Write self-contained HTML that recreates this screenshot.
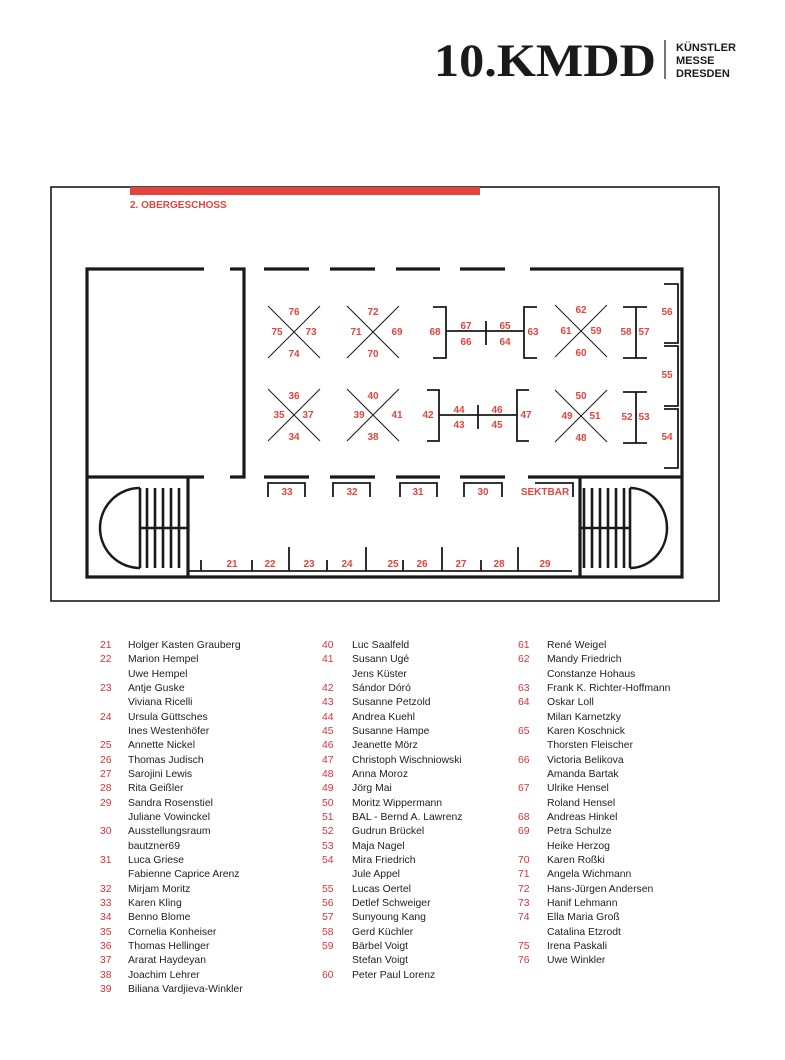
<!DOCTYPE html>
<html><head><meta charset="utf-8"><style>
body{margin:0;width:785px;height:1060px;background:#fff;position:relative;overflow:hidden;font-family:"Liberation Sans",sans-serif}
svg{position:absolute;left:0;top:0}
.col{position:absolute;top:639px;font-size:10.4px;line-height:14.33px;color:#222}
.col div{height:14.33px;white-space:nowrap;position:relative}
.col b{font-weight:normal;color:#d9333b;position:absolute;left:0}
.col span{position:absolute}
</style></head><body>
<svg width="785" height="1060" viewBox="0 0 785 1060" font-family="Liberation Sans, sans-serif">
<text x="434" y="76" font-family="Liberation Serif, serif" font-weight="bold" font-size="47" fill="#1a1a1a" textLength="222" lengthAdjust="spacingAndGlyphs">10.KMDD</text>
<line x1="665" y1="40" x2="665" y2="79" stroke="#1a1a1a" stroke-width="1.2"/>
<g font-size="11" font-weight="bold" fill="#1a1a1a"><text x="676" y="51">KÜNSTLER</text><text x="676" y="64">MESSE</text><text x="676" y="77">DRESDEN</text></g>
<rect x="51" y="187" width="668" height="414" fill="none" stroke="#1a1a1a" stroke-width="1.6"/>
<rect x="130" y="187" width="350" height="8" fill="#e2453f"/>
<text x="130" y="208" font-size="10" font-weight="bold" fill="#e2453f">2. OBERGESCHOSS</text>
<g stroke="#1a1a1a" stroke-width="3.2" fill="none">
<polyline points="204,269 87,269 87,577 682,577 682,269 530,269"/>
<polyline points="230,269 244,269 244,477 230,477"/>
<line x1="87" y1="477" x2="204" y2="477"/>
<line x1="264" y1="269" x2="309" y2="269"/><line x1="330" y1="269" x2="375" y2="269"/><line x1="396" y1="269" x2="440" y2="269"/><line x1="460" y1="269" x2="505" y2="269"/>
<line x1="264" y1="477" x2="309" y2="477"/><line x1="330" y1="477" x2="375" y2="477"/><line x1="396" y1="477" x2="440" y2="477"/><line x1="460" y1="477" x2="505" y2="477"/><line x1="528" y1="477" x2="682" y2="477"/>
<line x1="188" y1="477" x2="188" y2="577"/>
<line x1="580" y1="477" x2="580" y2="577"/>
</g>
<g stroke="#1a1a1a" fill="none">
<path d="M140,488 A40,40 0 0 0 140,568" stroke-width="2.5"/>
<path d="M630,488 A37,40 0 0 1 630,568" stroke-width="2.5"/>
<g stroke-width="2.6">
<line x1="140" y1="488" x2="140" y2="568"/><line x1="147" y1="488" x2="147" y2="568"/><line x1="155" y1="488" x2="155" y2="568"/><line x1="163" y1="488" x2="163" y2="568"/><line x1="171" y1="488" x2="171" y2="568"/><line x1="179" y1="488" x2="179" y2="568"/>
<line x1="584" y1="488" x2="584" y2="568"/><line x1="592" y1="488" x2="592" y2="568"/><line x1="600" y1="488" x2="600" y2="568"/><line x1="608" y1="488" x2="608" y2="568"/><line x1="616" y1="488" x2="616" y2="568"/><line x1="624" y1="488" x2="624" y2="568"/><line x1="630" y1="488" x2="630" y2="568"/>
<line x1="140" y1="528" x2="188" y2="528"/><line x1="580" y1="528" x2="630" y2="528"/>
</g>
<g stroke-width="1.8">
<line x1="188" y1="571" x2="572" y2="571"/>
<line x1="201" y1="560" x2="201" y2="571"/><line x1="252" y1="560" x2="252" y2="571"/><line x1="289" y1="547" x2="289" y2="571"/><line x1="327" y1="560" x2="327" y2="571"/><line x1="366" y1="547" x2="366" y2="571"/><line x1="403" y1="560" x2="403" y2="571"/><line x1="442" y1="547" x2="442" y2="571"/><line x1="481" y1="560" x2="481" y2="571"/><line x1="518" y1="547" x2="518" y2="571"/>
<polyline points="268,497 268,483 305,483 305,497"/><polyline points="333,497 333,483 370,483 370,497"/><polyline points="400,497 400,483 437,483 437,497"/><polyline points="464,497 464,483 502,483 502,497"/><polyline points="535,483 573,483 573,497"/>
</g>
<g stroke-width="1">
<path d="M268,306 L320,358 M320,306 L268,358"/><path d="M347,306 L399,358 M399,306 L347,358"/>
<path d="M268,389 L320,441 M320,389 L268,441"/><path d="M347,389 L399,441 M399,389 L347,441"/>
<path d="M555,305 L607,357 M607,305 L555,357"/><path d="M555,390 L607,442 M607,390 L555,442"/>
</g>
<g stroke-width="1.8">
<polyline points="433,307 446,307 446,358 433,358"/><line x1="446" y1="331" x2="524" y2="331"/><line x1="486" y1="321" x2="486" y2="345"/><polyline points="537,307 524,307 524,358 537,358"/>
<polyline points="427,390 439,390 439,441 427,441"/><line x1="439" y1="415" x2="517" y2="415"/><line x1="478" y1="405" x2="478" y2="429"/><polyline points="529,390 517,390 517,441 529,441"/>
<line x1="636" y1="307" x2="636" y2="358"/><line x1="623" y1="307" x2="647" y2="307"/><line x1="623" y1="358" x2="647" y2="358"/>
<line x1="636" y1="392" x2="636" y2="443"/><line x1="623" y1="392" x2="647" y2="392"/><line x1="623" y1="443" x2="647" y2="443"/>
<polyline points="664,284 678,284 678,343 664,343"/><polyline points="664,346 678,346 678,406 664,406"/><polyline points="664,409 678,409 678,468 664,468"/>
</g>
</g>
<g font-size="10" font-weight="bold" fill="#e2453f" text-anchor="middle">
<text x="294" y="315">76</text><text x="277" y="335">75</text><text x="311" y="335">73</text><text x="294" y="357">74</text>
<text x="373" y="315">72</text><text x="356" y="335">71</text><text x="397" y="335">69</text><text x="373" y="357">70</text>
<text x="294" y="399">36</text><text x="279" y="418">35</text><text x="308" y="418">37</text><text x="294" y="440">34</text>
<text x="373" y="399">40</text><text x="359" y="418">39</text><text x="397" y="418">41</text><text x="373" y="440">38</text>
<text x="581" y="313">62</text><text x="566" y="334">61</text><text x="596" y="334">59</text><text x="581" y="356">60</text>
<text x="581" y="399">50</text><text x="567" y="419">49</text><text x="595" y="419">51</text><text x="581" y="441">48</text>
<text x="435" y="335">68</text><text x="466" y="329">67</text><text x="466" y="345">66</text><text x="505" y="329">65</text><text x="505" y="345">64</text><text x="533" y="335">63</text>
<text x="428" y="418">42</text><text x="459" y="413">44</text><text x="459" y="428">43</text><text x="497" y="413">46</text><text x="497" y="428">45</text><text x="526" y="418">47</text>
<text x="626" y="335">58</text><text x="644" y="335">57</text><text x="627" y="420">52</text><text x="644" y="420">53</text>
<text x="667" y="315">56</text><text x="667" y="378">55</text><text x="667" y="440">54</text>
<text x="287" y="495">33</text><text x="352" y="495">32</text><text x="418" y="495">31</text><text x="483" y="495">30</text><text x="545" y="495">SEKTBAR</text>
<text x="232" y="567">21</text><text x="270" y="567">22</text><text x="309" y="567">23</text><text x="347" y="567">24</text><text x="393" y="567">25</text><text x="422" y="567">26</text><text x="461" y="567">27</text><text x="499" y="567">28</text><text x="545" y="567">29</text>
</g>
</svg>
<div class="col" style="left:100px;width:210px">
<div><b>21</b><span style="left:28px">Holger Kasten Grauberg</span></div>
<div><b>22</b><span style="left:28px">Marion Hempel</span></div>
<div><span style="left:28px">Uwe Hempel</span></div>
<div><b>23</b><span style="left:28px">Antje Guske</span></div>
<div><span style="left:28px">Viviana Ricelli</span></div>
<div><b>24</b><span style="left:28px">Ursula Güttsches</span></div>
<div><span style="left:28px">Ines Westenhöfer</span></div>
<div><b>25</b><span style="left:28px">Annette Nickel</span></div>
<div><b>26</b><span style="left:28px">Thomas Judisch</span></div>
<div><b>27</b><span style="left:28px">Sarojini Lewis</span></div>
<div><b>28</b><span style="left:28px">Rita Geißler</span></div>
<div><b>29</b><span style="left:28px">Sandra Rosenstiel</span></div>
<div><span style="left:28px">Juliane Vowinckel</span></div>
<div><b>30</b><span style="left:28px">Ausstellungsraum</span></div>
<div><span style="left:28px">bautzner69</span></div>
<div><b>31</b><span style="left:28px">Luca Griese</span></div>
<div><span style="left:28px">Fabienne Caprice Arenz</span></div>
<div><b>32</b><span style="left:28px">Mirjam Moritz</span></div>
<div><b>33</b><span style="left:28px">Karen Kling</span></div>
<div><b>34</b><span style="left:28px">Benno Blome</span></div>
<div><b>35</b><span style="left:28px">Cornelia Konheiser</span></div>
<div><b>36</b><span style="left:28px">Thomas Hellinger</span></div>
<div><b>37</b><span style="left:28px">Ararat Haydeyan</span></div>
<div><b>38</b><span style="left:28px">Joachim Lehrer</span></div>
<div><b>39</b><span style="left:28px">Biliana Vardjieva-Winkler</span></div>
</div>
<div class="col" style="left:322px;width:190px">
<div><b>40</b><span style="left:30px">Luc Saalfeld</span></div>
<div><b>41</b><span style="left:30px">Susann Ugé</span></div>
<div><span style="left:30px">Jens Küster</span></div>
<div><b>42</b><span style="left:30px">Sándor Dóró</span></div>
<div><b>43</b><span style="left:30px">Susanne Petzold</span></div>
<div><b>44</b><span style="left:30px">Andrea Kuehl</span></div>
<div><b>45</b><span style="left:30px">Susanne Hampe</span></div>
<div><b>46</b><span style="left:30px">Jeanette Mörz</span></div>
<div><b>47</b><span style="left:30px">Christoph Wischniowski</span></div>
<div><b>48</b><span style="left:30px">Anna Moroz</span></div>
<div><b>49</b><span style="left:30px">Jörg Mai</span></div>
<div><b>50</b><span style="left:30px">Moritz Wippermann</span></div>
<div><b>51</b><span style="left:30px">BAL - Bernd A. Lawrenz</span></div>
<div><b>52</b><span style="left:30px">Gudrun Brückel</span></div>
<div><b>53</b><span style="left:30px">Maja Nagel</span></div>
<div><b>54</b><span style="left:30px">Mira Friedrich</span></div>
<div><span style="left:30px">Jule Appel</span></div>
<div><b>55</b><span style="left:30px">Lucas Oertel</span></div>
<div><b>56</b><span style="left:30px">Detlef Schweiger</span></div>
<div><b>57</b><span style="left:30px">Sunyoung Kang</span></div>
<div><b>58</b><span style="left:30px">Gerd Küchler</span></div>
<div><b>59</b><span style="left:30px">Bärbel Voigt</span></div>
<div><span style="left:30px">Stefan Voigt</span></div>
<div><b>60</b><span style="left:30px">Peter Paul Lorenz</span></div>
</div>
<div class="col" style="left:518px;width:200px">
<div><b>61</b><span style="left:29px">René Weigel</span></div>
<div><b>62</b><span style="left:29px">Mandy Friedrich</span></div>
<div><span style="left:29px">Constanze Hohaus</span></div>
<div><b>63</b><span style="left:29px">Frank K. Richter-Hoffmann</span></div>
<div><b>64</b><span style="left:29px">Oskar Loll</span></div>
<div><span style="left:29px">Milan Karnetzky</span></div>
<div><b>65</b><span style="left:29px">Karen Koschnick</span></div>
<div><span style="left:29px">Thorsten Fleischer</span></div>
<div><b>66</b><span style="left:29px">Victoria Belikova</span></div>
<div><span style="left:29px">Amanda Bartak</span></div>
<div><b>67</b><span style="left:29px">Ulrike Hensel</span></div>
<div><span style="left:29px">Roland Hensel</span></div>
<div><b>68</b><span style="left:29px">Andreas Hinkel</span></div>
<div><b>69</b><span style="left:29px">Petra Schulze</span></div>
<div><span style="left:29px">Heike Herzog</span></div>
<div><b>70</b><span style="left:29px">Karen Roßki</span></div>
<div><b>71</b><span style="left:29px">Angela Wichmann</span></div>
<div><b>72</b><span style="left:29px">Hans-Jürgen Andersen</span></div>
<div><b>73</b><span style="left:29px">Hanif Lehmann</span></div>
<div><b>74</b><span style="left:29px">Ella Maria Groß</span></div>
<div><span style="left:29px">Catalina Etzrodt</span></div>
<div><b>75</b><span style="left:29px">Irena Paskali</span></div>
<div><b>76</b><span style="left:29px">Uwe Winkler</span></div>
</div>
</body></html>
